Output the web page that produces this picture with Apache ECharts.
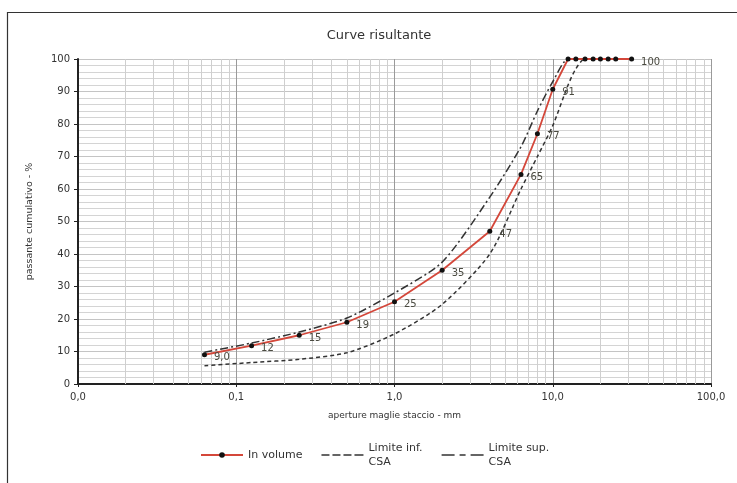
<!DOCTYPE html>
<html>
<head>
<meta charset="utf-8">
<script src="https://cdn.jsdelivr.net/npm/echarts@6/dist/echarts.min.js"></script>
<style>html,body{margin:0;padding:0;background:#fff}#c{width:737px;height:483px}</style>
</head>
<body>
<div id="c"></div>
<script>
// sieve openings (mm) and cumulative passing (%)
var sieves = [0.063, 0.125, 0.25, 0.5, 1, 2, 4, 6.3, 8, 10, 12.5, 14, 16, 18, 20, 22.4, 25, 31.5];
var inVolume = [9, 11.8, 15, 19, 25.3, 35, 47, 64.5, 77, 90.7, 100, 100, 100, 100, 100, 100, 100, 100];
var pointLabels = ['9,0', '12', '15', '19', '25', '35', '47', '65', '77', '91', '', '', '', '', '', '', '', '100'];

var limitSieves = [0.063, 0.125, 0.25, 0.5, 1, 2, 4, 6.3, 8, 10, 12.5, 14, 16, 31.5];
var limitInf = [5.6, 6.6, 7.6, 9.6, 15.4, 24.5, 40, 60, 70, 79.5, 92, 97, 100, 100];
var limitSup = [9.8, 12.6, 16, 20.3, 28, 37.5, 57.5, 73, 84, 93, 100, 100, 100, 100];

var xTickLabels = ['0,0', '0,1', '1,0', '10,0', '100,0'];
var yTickLabels = ['0', '10', '20', '30', '40', '50', '60', '70', '80', '90', '100'];
var minorGridX = [0.02,0.03,0.04,0.05,0.06,0.07,0.08,0.09,
                  0.2,0.3,0.4,0.5,0.6,0.7,0.8,0.9,
                  2,3,4,5,6,7,8,9,
                  20,30,40,50,60,70,80,90];

function pairs(xs, ys) { return xs.map(function (x, i) { return [x, ys[i]]; }); }

var FONT = '"DejaVu Sans", Verdana, sans-serif';
// legend icons: thin dash shapes inside a 42x7 box (degenerate sub-paths fix the box)
var BOX = 'M0,0L0,7M42,0L42,7';
var dashIcon = 'path://' + BOX + 'M0,2.8h8v1.4h-8zM11,2.8h8v1.4h-8zM22,2.8h8v1.4h-8zM33,2.8h9v1.4h-9z';
var dashDotIcon = 'path://' + BOX + 'M0,2.8h13v1.4h-13zM18,2.8h6v1.4h-6zM29,2.8h13v1.4h-13z';

var chart = echarts.init(document.getElementById('c'), null, {renderer: 'canvas'});
chart.setOption({
  animation: false,
  backgroundColor: '#fff',
  title: {
    text: 'Curve risultante', left: 374, top: 24, textAlign: 'center',
    textStyle: {fontFamily: FONT, fontSize: 13, fontWeight: 'normal', color: '#333'}
  },
  grid: {left: 78, right: 26, top: 59, bottom: 99, containLabel: false},
  legend: {
    left: 200, top: 434, padding: 0, itemGap: 19, itemWidth: 42, itemHeight: 7,
    textStyle: {fontFamily: FONT, fontSize: 11, color: '#333', lineHeight: 14},
    data: [
      {name: 'In volume'},
      {name: 'Limite inf.\nCSA', icon: dashIcon, textStyle: {padding: [14, 0, 0, 0]}},
      {name: 'Limite sup.\nCSA', icon: dashDotIcon, textStyle: {padding: [14, 0, 0, 0]}}
    ]
  },
  xAxis: {
    type: 'log', logBase: 10, min: 0.01, max: 100,
    name: 'aperture maglie staccio - mm', nameLocation: 'middle', nameGap: 27,
    nameTextStyle: {fontFamily: FONT, fontSize: 9, color: '#333'},
    axisLine: {lineStyle: {color: '#222', width: 2}},
    axisTick: {show: true, inside: false, length: 3, lineStyle: {color: '#222'}},
    axisLabel: {fontFamily: FONT, fontSize: 10, color: '#333', margin: 8,
      formatter: function (v, i) { return xTickLabels[i]; }},
    splitLine: {show: true, lineStyle: {color: '#9a9a9a', width: 1}}
  },
  yAxis: {
    type: 'value', min: 0, max: 100, interval: 10,
    name: 'passante cumulativo - %', nameLocation: 'middle', nameGap: 43, nameRotate: 90,
    nameTextStyle: {fontFamily: FONT, fontSize: 9.5, color: '#333'},
    axisLine: {show: true, lineStyle: {color: '#222', width: 2}},
    axisTick: {show: true, inside: false, length: 4, lineStyle: {color: '#222'}},
    axisLabel: {fontFamily: FONT, fontSize: 10, color: '#333', margin: 8,
      formatter: function (v, i) { return yTickLabels[i]; }},
    splitLine: {show: true, lineStyle: {color: '#c4c4c4', width: 1}},
    minorTick: {show: false, splitNumber: 5},
    minorSplitLine: {show: true, lineStyle: {color: '#d4d4d4', width: 1}}
  },
  graphic: [
    {type: 'line', shape: {x1: 7, y1: 12.5, x2: 737, y2: 12.5}, style: {stroke: '#333', lineWidth: 1.2}, silent: true},
    {type: 'line', shape: {x1: 7.5, y1: 12, x2: 7.5, y2: 483}, style: {stroke: '#333', lineWidth: 1.2}, silent: true}
  ],
  series: [
    {
      name: 'minor-grid', type: 'line', data: [], silent: true,
      markLine: {
        silent: true, symbol: 'none', z: 1, animation: false,
        label: {show: false},
        lineStyle: {color: '#cfcfcf', width: 1, type: 'solid'},
        emphasis: {disabled: true},
        data: minorGridX.map(function (v) { return {xAxis: v}; })
      }
    },
    {
      name: 'Limite inf.\nCSA', type: 'line', data: pairs(limitSieves, limitInf),
      symbol: 'none', smooth: 0.25, z: 3,
      lineStyle: {color: '#333', width: 1.5, type: [4, 3]},
      itemStyle: {color: '#333'}
    },
    {
      name: 'Limite sup.\nCSA', type: 'line', data: pairs(limitSieves, limitSup),
      symbol: 'none', smooth: 0.25, z: 3,
      lineStyle: {color: '#333', width: 1.5, type: [8, 3, 2, 3]},
      itemStyle: {color: '#333'}
    },
    {
      name: 'In volume', type: 'line', data: pairs(sieves, inVolume), z: 4,
      symbol: 'circle', symbolSize: 5,
      lineStyle: {color: '#d4473a', width: 1.8},
      itemStyle: {color: '#111'},
      label: {
        show: true, position: 'right', distance: 7, offset: [0, 3],
        fontFamily: FONT, fontSize: 10, color: '#4a4a40',
        formatter: function (p) { return pointLabels[p.dataIndex]; }
      }
    }
  ]
});
</script>
</body>
</html>
